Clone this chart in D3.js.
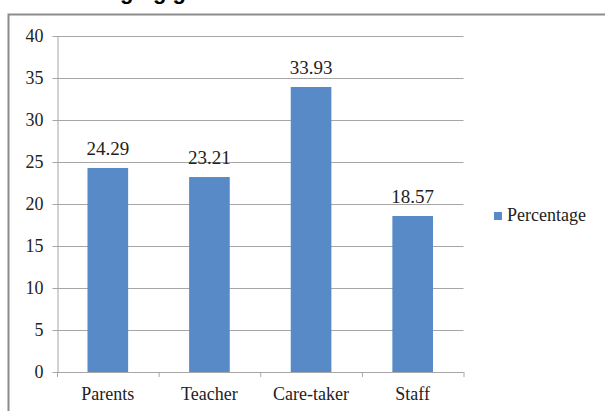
<!DOCTYPE html>
<html><head><meta charset="utf-8">
<script src="https://cdn.jsdelivr.net/npm/d3@7"></script>
<style>body{margin:0;background:#fff;}svg{display:block;}
.serif{font-family:"Liberation Serif","Times New Roman","DejaVu Serif",serif;}</style>
</head><body>
<svg id="c" width="605" height="411"></svg>
<script>
const categories = ["Parents", "Teacher", "Care-taker", "Staff"];
const values = [24.29, 23.21, 33.93, 18.57];
const yTicks = [0, 5, 10, 15, 20, 25, 30, 35, 40];
const seriesName = "Percentage";
const titleFragment = "ging g";

const svg = d3.select("#c");
const L = 57, R = 463.5, T = 36, B = 372;

// cut-off title above chart frame
svg.append("text").attr("x", 120).attr("y", -1)
  .style("font-family", "'Liberation Sans',Arial,sans-serif").attr("font-weight", "bold")
  .attr("font-size", 22).attr("fill", "#000").text(titleFragment);

// frame
svg.append("rect").attr("x", 8.5).attr("y", 14.5).attr("width", 610).attr("height", 420)
  .attr("fill", "#fff").attr("stroke", "#8c8c8c").attr("stroke-width", 2);

const x = d3.scaleBand().domain(categories).range([L, R]).paddingInner(0.6).paddingOuter(0.3);
const y = d3.scaleLinear().domain([0, 40]).range([B, T]);

// gridlines
svg.append("g").selectAll("line").data(yTicks.filter(d => d > 0)).join("line")
  .attr("x1", L).attr("x2", R).attr("y1", d => Math.round(y(d)) + 0.5).attr("y2", d => Math.round(y(d)) + 0.5)
  .attr("stroke", "#a6a6a6").attr("stroke-width", 1);

// y axis
const yAxis = svg.append("g").attr("transform", `translate(${L + 0.5},0)`)
  .call(d3.axisLeft(y).tickValues(yTicks).tickSize(5).tickPadding(9).tickSizeOuter(0));
yAxis.attr("font-family", null);
yAxis.select(".domain").attr("stroke", "#a6a6a6");
yAxis.selectAll(".tick line").attr("stroke", "#a6a6a6");
yAxis.selectAll(".tick text").attr("class", "serif").attr("font-size", 18).attr("fill", "#222");

// bars
svg.append("g").selectAll("rect").data(values).join("rect")
  .attr("x", (d, i) => x(categories[i])).attr("width", x.bandwidth())
  .attr("y", d => y(d)).attr("height", d => B - y(d)).attr("fill", "#588ac7");

// value labels
svg.append("g").selectAll("text").data(values).join("text")
  .attr("class", "serif")
  .attr("x", (d, i) => x(categories[i]) + x.bandwidth() / 2).attr("y", d => y(d) - 13)
  .attr("text-anchor", "middle").attr("font-size", 19).attr("fill", "#222")
  .text(d => d.toFixed(2));

// x axis
const step = x.step();
svg.append("line").attr("x1", L).attr("x2", R).attr("y1", B + 0.5).attr("y2", B + 0.5).attr("stroke", "#a6a6a6");
svg.append("g").selectAll("line").data(d3.range(categories.length + 1)).join("line")
  .attr("x1", i => L + i * step + 0.5).attr("x2", i => L + i * step + 0.5)
  .attr("y1", B).attr("y2", B + 5).attr("stroke", "#a6a6a6");
svg.append("g").selectAll("text").data(categories).join("text")
  .attr("class", "serif")
  .attr("x", d => x(d) + x.bandwidth() / 2).attr("y", 400)
  .attr("text-anchor", "middle").attr("font-size", 18).attr("fill", "#222")
  .text(d => d);

// legend
const lg = svg.append("g").attr("transform", "translate(494,212)");
lg.append("rect").attr("width", 8).attr("height", 8).attr("fill", "#588ac7");
lg.append("text").attr("class", "serif").attr("x", 13).attr("y", 9).attr("font-size", 18).attr("fill", "#222").text(seriesName);
</script>
</body></html>
